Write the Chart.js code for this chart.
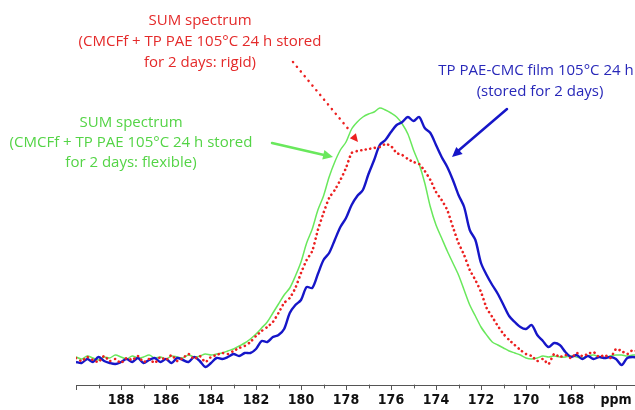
<!DOCTYPE html>
<html>
<head>
<meta charset="utf-8">
<title>13C NMR carbonyl region</title>
<script src="https://cdn.jsdelivr.net/npm/chart.js@4.4.1/dist/chart.umd.min.js"></script>
<style>
  html, body { margin: 0; padding: 0; background: #fff; }
  #wrap { width: 635px; height: 410px; position: relative; }
</style>
</head>
<body>
<div id="wrap"><canvas id="spectrum"></canvas></div>
<script>
// ── Data ───────────────────────────────────────────────────
// chemical shift axis (ppm), 0.25 ppm steps, high → low
const ppm = [
  190, 189.75, 189.5, 189.25, 189, 188.75, 188.5, 188.25, 188, 187.75,
  187.5, 187.25, 187, 186.75, 186.5, 186.25, 186, 185.75, 185.5, 185.25,
  185, 184.75, 184.5, 184.25, 184, 183.75, 183.5, 183.25, 183, 182.75,
  182.5, 182.25, 182, 181.75, 181.5, 181.25, 181, 180.75, 180.5, 180.25,
  180, 179.75, 179.5, 179.25, 179, 178.75, 178.5, 178.25, 178, 177.75,
  177.5, 177.25, 177, 176.75, 176.5, 176.25, 176, 175.75, 175.5, 175.25,
  175, 174.75, 174.5, 174.25, 174, 173.75, 173.5, 173.25, 173, 172.75,
  172.5, 172.25, 172, 171.75, 171.5, 171.25, 171, 170.75, 170.5, 170.25,
  170, 169.75, 169.5, 169.25, 169, 168.75, 168.5, 168.25, 168, 167.75,
  167.5, 167.25, 167, 166.75, 166.5, 166.25, 166, 165.75, 165.5, 165.25,
  165
];

// TP PAE-CMC film 105°C 24 h (stored for 2 days)
const filmStored = [
  -2, -3, 1, -2, 3, -1, -3, -4, -2, 1,
  -2, 2, -3, 0, 2, -2, 1, -3, 2, 0,
  -2, 3, -1, -7, -3, 2, 1, 3, 6, 4,
  7, 7, 11, 19, 18, 23, 25, 31, 47, 55,
  60, 73, 72, 86, 100, 107, 120, 133, 142, 155,
  164, 170, 186, 200, 215, 220, 228, 235, 238, 243,
  239, 243, 232, 227, 215, 203, 193, 180, 165, 153,
  130, 120, 97, 85, 75, 66, 55, 44, 38, 33,
  31, 35, 25, 19, 13, 17, 15, 8, 3, 5,
  1, 4, 1, 3, 2, 3, 1, -5, 2, 3,
  2
];

// SUM spectrum, flexible
const sumFlexible = [
  3, 1, 4, 2, 0, 3, 2, 5, 3, 1,
  4, 2, 3, 5, 2, 3, 1, 4, 3, 2,
  5, 3, 4, 6, 5, 6, 7, 9, 11, 14,
  17, 21, 26, 32, 38, 47, 56, 65, 72, 84,
  98, 117, 131, 150, 164, 183, 198, 210, 218, 231,
  238, 243, 246, 248, 252, 250, 247, 243, 236, 226,
  210, 196, 177, 153, 135, 122, 109, 97, 85, 70,
  55, 44, 33, 25, 18, 15, 12, 9, 7, 5,
  2, 1, 2, 4, 3, 4, 3, 3, 4, 3,
  2, 4, 5, 3, 2, 4, 5, 5, 4, 5,
  5
];

// SUM spectrum, rigid
const sumRigid = [
  2, -1, 3, 0, -2, 4, -1, 1, -3, 2,
  0, 4, -2, 1, -3, 3, 0, 5, -1, 2,
  6, 1, 4, -2, 3, 5, 7, 6, 9, 12,
  14, 18, 24, 29, 33, 38, 47, 57, 62, 72,
  87, 100, 109, 130, 147, 162, 170, 180, 192, 207,
  209, 210, 211, 212, 213, 216, 214, 207, 205, 201,
  198, 196, 189, 180, 168, 160, 150, 133, 117, 105,
  90, 80, 68, 52, 43, 34, 26, 20, 15, 10,
  6, 4, -1, 1, -4, 6, 3, 5, 2, 7,
  4, 6, 8, 3, 5, 2, 11, 9, 6, 10,
  8
];

const toPoints = arr => arr.map((v, i) => ({ x: ppm[i], y: v }));

const GREEN = 'rgb(105,232,92)';
const RED   = 'rgb(236,32,32)';
const BLUE  = 'rgb(22,22,200)';
const AXIS  = '#555';
const TEXT_FONT = "15px 'Open Sans', sans-serif";

// ── Annotations: labels + arrows ───────────────────────────

function arrowHead(ctx, x0, y0, x1, y1, size, color) {
  const a = Math.atan2(y1 - y0, x1 - x0);
  ctx.save();
  ctx.fillStyle = color;
  ctx.beginPath();
  ctx.moveTo(x1, y1);
  ctx.lineTo(x1 - size * Math.cos(a - 0.45), y1 - size * Math.sin(a - 0.45));
  ctx.lineTo(x1 - size * Math.cos(a + 0.45), y1 - size * Math.sin(a + 0.45));
  ctx.closePath();
  ctx.fill();
  ctx.restore();
}

const annotations = {
  id: 'annotations',
  afterDraw(chart) {
    const ctx = chart.ctx;
    ctx.save();
    ctx.font = TEXT_FONT;
    ctx.textAlign = 'center';
    ctx.textBaseline = 'middle';

    ctx.fillStyle = 'rgb(228,42,42)';
    ctx.fillText('SUM spectrum', 200, 21);
    ctx.fillText('(CMCFf + TP PAE 105°C 24 h stored', 200, 42);
    ctx.fillText('for 2 days: rigid)', 200, 63);

    ctx.fillStyle = 'rgb(84,212,70)';
    ctx.fillText('SUM spectrum', 131, 123);
    ctx.fillText('(CMCFf + TP PAE 105°C 24 h stored', 131, 143);
    ctx.fillText('for 2 days: flexible)', 131, 163);

    ctx.fillStyle = 'rgb(40,40,185)';
    ctx.fillText('TP PAE-CMC film 105°C 24 h', 536, 71);
    ctx.fillText('(stored for 2 days)', 540, 92);

    // red dotted pointer
    ctx.strokeStyle = RED;
    ctx.lineWidth = 2.5;
    ctx.lineCap = 'round';
    ctx.setLineDash([0.1, 6]);
    ctx.beginPath();
    ctx.moveTo(293, 62);
    ctx.lineTo(350, 131);
    ctx.stroke();
    ctx.setLineDash([]);
    arrowHead(ctx, 293, 62, 358, 142, 9, RED);

    // green pointer
    ctx.strokeStyle = GREEN;
    ctx.lineWidth = 2.5;
    ctx.beginPath();
    ctx.moveTo(272, 143);
    ctx.lineTo(324, 155);
    ctx.stroke();
    arrowHead(ctx, 272, 143, 333, 157, 11, GREEN);

    // blue pointer
    ctx.strokeStyle = BLUE;
    ctx.beginPath();
    ctx.moveTo(507, 109);
    ctx.lineTo(458, 151);
    ctx.stroke();
    arrowHead(ctx, 507, 109, 452, 157, 11, BLUE);

    // minor ticks every 1 ppm
    const xs = chart.scales.x;
    ctx.strokeStyle = AXIS;
    ctx.lineWidth = 1;
    for (let v = 165; v <= 189; v += 2) {
      const px = Math.round(xs.getPixelForValue(v)) + 0.5;
      ctx.beginPath();
      ctx.moveTo(px, xs.top);
      ctx.lineTo(px, xs.top + 3);
      ctx.stroke();
    }
    ctx.restore();
  },
};

// ── Chart ──────────────────────────────────────────────────

new Chart(document.getElementById('spectrum'), {
  type: 'line',
  data: {
    datasets: [
      {
        label: 'SUM rigid',
        data: toPoints(sumRigid),
        borderColor: RED,
        borderWidth: 2.6,
        borderDash: [0.1, 4.6],
        borderCapStyle: 'round',
        pointRadius: 0,
        tension: 0.2,
      },
      {
        label: 'TP PAE-CMC film',
        data: toPoints(filmStored),
        borderColor: BLUE,
        borderWidth: 2.4,
        pointRadius: 0,
        tension: 0.3,
      },
      {
        label: 'SUM flexible',
        data: toPoints(sumFlexible),
        borderColor: GREEN,
        borderWidth: 1.5,
        pointRadius: 0,
        tension: 0.3,
      },
    ],
  },
  options: {
    responsive: true,
    maintainAspectRatio: false,
    devicePixelRatio: 1,
    animation: false,
    layout: { padding: { left: 76, right: 0, top: 0, bottom: 0 } },
    plugins: { legend: { display: false }, tooltip: { enabled: false } },
    scales: {
      x: {
        type: 'linear',
        reverse: true,
        min: 165.156,
        max: 190,
        afterFit: s => { s.height = 25; },
        border: { display: true, color: AXIS, width: 1 },
        grid: {
          drawOnChartArea: false,
          drawTicks: true,
          tickLength: 5,
          tickColor: AXIS,
        },
        ticks: {
          stepSize: 2,
          includeBounds: false,
          autoSkip: false,
          maxRotation: 0,
          padding: 2,
          color: '#111',
          font: { family: "'Liberation Sans Narrow', 'DejaVu Sans Condensed', Arial, sans-serif", size: 14, weight: 'bold' },
          callback: v => (v === 166 ? 'ppm' : (v === 190 ? '' : v)),
        },
      },
      y: { display: false, min: -25, max: 360 },
    },
  },
  plugins: [annotations],
});
</script>
</body>
</html>
